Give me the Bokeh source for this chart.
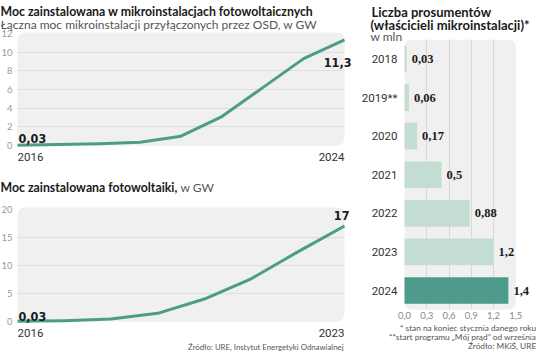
from bokeh.plotting import figure
from bokeh.layouts import row, column
from bokeh.models import (Label, LabelSet, ColumnDataSource, Range1d, FixedTicker,
                          BoxAnnotation, LinearAxis)
from bokeh.embed import file_html
from bokeh.resources import INLINE

# ---- data ----
micro_years = [2016, 2017, 2018, 2019, 2020, 2021, 2022, 2023, 2024]
micro_gw = [0.03, 0.1, 0.18, 0.35, 1.0, 3.1, 6.2, 9.3, 11.3]
micro_ticks = [0, 2, 4, 6, 8, 10, 12]

pv_years = [2016, 2017, 2018, 2019, 2020, 2021, 2022, 2023]
pv_gw = [0.03, 0.15, 0.43, 1.45, 4.0, 7.6, 12.4, 17]
pv_ticks = [0, 5, 10, 15, 20]

pros_years = ["2018", "2019**", "2020", "2021", "2022", "2023", "2024"]
pros_mln = [0.03, 0.06, 0.17, 0.5, 0.88, 1.2, 1.4]
pros_ticks = [0.0, 0.3, 0.6, 0.9, 1.2, 1.5]

title1 = "Moc zainstalowana w mikroinstalacjach fotowoltaicznych"
subtitle1 = "Łączna moc mikroinstalacji przyłączonych przez OSD, w GW"
title2 = "Moc zainstalowana fotowoltaiki,"
subtitle2 = "w GW"
source2 = "Źródło: URE, Instytut Energetyki Odnawialnej"
title3 = ["Liczba prosumentów", "(właścicieli mikroinstalacji)*"]
subtitle3 = "w mln"
notes3 = ["* stan na koniec stycznia danego roku",
          "**start programu „Mój prąd” od września",
          "Źródło: MKiŚ, URE"]

# ---- style ----
TEAL = "#4b9d87"
LIGHT_BAR = "#c4ddd3"
DARK_BAR = "#4e9a8b"
BG = "#f0f0f0"
GRID = "#dedede"
TXT = "Lato"
NUM = "DejaVu Sans Condensed"
REG = "Roboto"


def fmt(v):
    return f"{v:g}".replace(".", ",")


def span(lo_val, hi_val, lo_px, hi_px, total_px):
    """Range whose lo/hi values sit at the given pixel positions of a frame total_px long."""
    scale = (hi_px - lo_px) / (hi_val - lo_val)
    return lo_val - lo_px / scale, hi_val + (total_px - hi_px) / scale


def add_label(p, x, y, text, dx=0, dy=0, size="13px", font=TXT, style="normal",
              color="#1a1a1a", align="left", baseline="alphabetic"):
    p.add_layout(Label(x=x, y=y, x_offset=dx, y_offset=dy, text=text,
                       text_font=font, text_font_size=size, text_font_style=style,
                       text_color=color, text_align=align, text_baseline=baseline))


def base_fig(width, height, xr, yr):
    p = figure(width=width, height=height, x_range=Range1d(*xr), y_range=Range1d(*yr),
               x_axis_location=None, toolbar_location=None, output_backend="svg",
               min_border=0, min_border_left=0, min_border_right=0,
               min_border_top=0, min_border_bottom=0)
    p.outline_line_color = None
    p.background_fill_color = "white"
    p.border_fill_color = "white"
    p.xgrid.visible = False
    p.ygrid.visible = False
    return p


def style_axis(ax, ticker, font, size, color, standoff):
    ax.ticker = FixedTicker(ticks=ticker)
    ax.axis_line_color = None
    ax.major_tick_line_color = None
    ax.minor_tick_line_color = None
    ax.major_tick_out = 0
    ax.major_tick_in = 0
    ax.minor_tick_out = 0
    ax.minor_tick_in = 0
    ax.major_label_standoff = standoff
    ax.major_label_text_font = font
    ax.major_label_text_font_size = size
    ax.major_label_text_color = color


def line_chart(years, vals, ticks, ymax, height, y0_px, ytop_px):
    xr = span(years[0], years[-1], 17, 344, 360)
    yr = span(0, ymax, height - y0_px, height - ytop_px, height)
    p = base_fig(360, height, xr, yr)
    p.add_layout(BoxAnnotation(left=years[0], right=years[-1], bottom=0, top=ymax,
                               fill_color=BG, fill_alpha=1, line_color=None,
                               border_radius=7, level="image"))
    ax = p.yaxis[0]
    ax.fixed_location = years[0]
    style_axis(ax, ticks, TXT, "9.5px", "#9a9a9a", 5)
    p.ygrid.visible = True
    p.ygrid.grid_line_color = GRID
    p.ygrid.ticker = FixedTicker(ticks=ticks[1:-1])
    p.ygrid.cross_bounds = (years[0], years[-1])
    p.line(years, vals, line_width=3, line_color=TEAL, line_join="round")
    add_label(p, years[0], 0, str(years[0]), dy=-11.7, size="11.5px", font=REG, color="#333333")
    add_label(p, years[-1], 0, str(years[-1]), dy=-11.7, size="11.5px", font=REG,
              color="#333333", align="right")
    return p


# ---- chart 1 ----
p1 = line_chart(micro_years, micro_gw, micro_ticks, 12.1, 170, 145, 32)
add_label(p1, micro_years[0], 12.1, title1, dx=-17, dy=21.3, size="12.3px", style="bold")
add_label(p1, micro_years[0], 12.1, subtitle1, dx=-17, dy=8, size="12px", color="#555555")
add_label(p1, micro_years[0], 0, fmt(micro_gw[0]), dx=1, dy=7, font=NUM,
          size="12.5px", style="bold")
add_label(p1, micro_years[-1], micro_gw[-1], fmt(micro_gw[-1]), dx=7, dy=-22.8, font=NUM,
          size="12.5px", style="bold", align="right")

# ---- chart 2 ----
p2 = line_chart(pv_years, pv_gw, pv_ticks, 20.3, 181, 151, 37)
add_label(p2, pv_years[0], 20.3, title2, dx=-17, dy=20.3, size="12.3px", style="bold")
add_label(p2, pv_years[0], 20.3, subtitle2, dx=163, dy=20.3, size="12px", color="#555555")
add_label(p2, pv_years[0], pv_gw[0], fmt(pv_gw[0]), dx=1, dy=4.8, font=NUM, size="12.5px",
          style="bold")
add_label(p2, pv_years[-1], pv_gw[-1], fmt(pv_gw[-1]), dx=5, dy=10.5, font=NUM, size="12.5px",
          style="bold", align="right")
add_label(p2, pv_years[-1], 0, source2, dx=-1, dy=-25.5, size="7.8px", color="#555555",
          align="right")

# ---- chart 3 ----
n = len(pros_years)
idx = list(range(n))
xr3 = span(0, 1.5, 44, 155.3, 176)
yr3 = span(-0.5, n - 0.5, 351 - 39.2, 351 - 309.3, 351)   # flipped: first category on top
p3 = base_fig(176, 351, xr3, yr3)
p3.add_layout(BoxAnnotation(left=0, right=1.5, top=-0.5, bottom=n - 0.5,
                            fill_color=BG, fill_alpha=1, line_color=None,
                            border_radius=7, level="image"))
p3.xgrid.visible = True
p3.xgrid.grid_line_color = "#d8d8d8"
p3.xgrid.ticker = FixedTicker(ticks=pros_ticks[1:-1])
p3.xgrid.cross_bounds = (-0.5, n - 0.5)
colors = [LIGHT_BAR] * (n - 1) + [DARK_BAR]
src = ColumnDataSource(dict(y=idx, x=pros_mln, c=colors, t=[fmt(v) for v in pros_mln]))
p3.hbar(y="y", right="x", left=0, height=0.69, fill_color="c", line_color=None, source=src)
p3.add_layout(LabelSet(x="x", y="y", text="t", x_offset=5, source=src, text_baseline="middle",
                       text_font=NUM, text_font_size="12.5px", text_font_style="bold",
                       text_color="#1a1a1a"))
xa = LinearAxis(fixed_location=n - 0.5)
p3.add_layout(xa, "below")
style_axis(xa, pros_ticks, TXT, "9.5px", "#8a8a8a", 2)
xa.major_label_overrides = {t: f"{t:.1f}".replace(".", ",") for t in pros_ticks}
ya = p3.yaxis[0]
ya.fixed_location = 0
style_axis(ya, idx, REG, "11.5px", "#333333", 7)
ya.major_label_overrides = {i: c for i, c in zip(idx, pros_years)}

add_label(p3, 0, -0.5, title3[0], dx=-33, dy=28, size="13px", style="bold")
add_label(p3, 0, -0.5, title3[1], dx=-34, dy=14.8, size="13px", style="bold")
add_label(p3, 0, -0.5, subtitle3, dx=-34, dy=3.2, size="12px", color="#555555")
for k, note in enumerate(notes3):
    add_label(p3, 1.5, n - 0.5, note, dx=20.4, dy=-18 - 9.2 * k, size="8.3px",
              color="#555555", align="right")

layout = row(column(p1, p2), p3)
open("out.html", "w").write(file_html(layout, INLINE))
